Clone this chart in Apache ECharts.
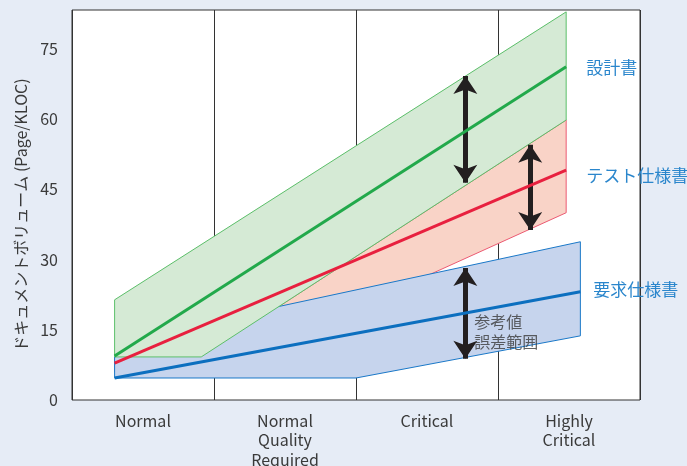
<!DOCTYPE html>
<html><head><meta charset="utf-8">
<script src="https://cdn.jsdelivr.net/npm/echarts@6/dist/echarts.min.js"></script>
<style>html,body{margin:0;padding:0;background:#e6ecf6;}#c{width:687px;height:466px;}</style>
</head><body><div id="c"></div>
<script>
// ---- data ----
const categories = ['Normal', 'Normal\nQuality\nRequired', 'Critical', 'Highly\nCritical'];
const yTicks = [0, 15, 30, 45, 60, 75];
const yName = 'ドキュメントボリューム (Page/KLOC)';
// x positions in category units (0 = left edge of "Normal", 4 = right edge of "Highly Critical")
const designUpper = [[0.3, 21.4], [3.48, 82.9]];
const designMid   = [[0.3, 9.4],  [3.48, 71.2]];
const designLower = [[0.3, 9.2],  [0.91, 9.2], [3.48, 59.8]];
const testUpper   = [[0.3, 9.2],  [0.91, 9.2], [3.48, 59.8]];
const testMid     = [[0.3, 7.9],  [3.48, 49.1]];
const testLower   = [[0.3, 6.0],  [1.61, 14.3], [3.48, 40.0]];
const reqUpper    = [[0.3, 9.2],  [1.445, 19.9], [3.58, 33.8]];
const reqMid      = [[0.3, 4.7],  [3.58, 23.1]];
const reqLower    = [[0.3, 4.7],  [2.0, 4.7], [3.58, 13.7]];
const seriesNames = ['設計書', 'テスト仕様書', '要求仕様書'];
const arrows = [
  [[2.77, 69.2], [2.77, 46.4]],
  [[3.227, 54.5], [3.227, 36.3]],
  [[2.77, 28.2], [2.77, 8.8]]
];
const noteText = ['参考値', '誤差範囲'];
const notePos = [2.833, 14.5];

// ---- chart ----
const FONT = '"Noto Sans CJK JP", "Noto Sans", sans-serif';
const bands = [
  {upper: testUpper, lower: testLower, fill: '#f9d3c7', stroke: '#ec5a72'},
  {upper: reqUpper, lower: reqLower, fill: '#c6d4ed', stroke: '#1a78c8'},
  {upper: designUpper, lower: designLower, fill: '#d5ead5', stroke: '#5cbf6a'}
];
function bandSeries(b) {
  return {
    type: 'custom', xAxisIndex: 1, yAxisIndex: 0, silent: true,
    data: [[b.upper[0][0], b.upper[0][1]]],
    renderItem: function (params, api) {
      const pts = b.upper.concat(b.lower.slice().reverse()).map(p => api.coord(p));
      return {type: 'polygon', shape: {points: pts},
        style: {fill: b.fill, stroke: b.stroke, lineWidth: 1}};
    }
  };
}
function midSeries(name, data, color, dist, off) {
  return {
    type: 'line', name: name, xAxisIndex: 1, yAxisIndex: 0, data: data,
    symbol: 'none', lineStyle: {color: color, width: 3}, silent: true,
    endLabel: {show: true, formatter: name, color: '#2a86cc', fontSize: 17,
      fontFamily: FONT, distance: dist, offset: off}
  };
}
const chart = echarts.init(document.getElementById('c'));
chart.setOption({
  backgroundColor: '#e6ecf6',
  animation: false,
  textStyle: {fontFamily: FONT},
  grid: {left: 72, right: 47, top: 10, bottom: 66, show: true, outerBoundsMode: 'none',
    containLabel: false,
    backgroundColor: '#ffffff', borderColor: '#333333', borderWidth: 1},
  xAxis: [
    {type: 'category', data: categories, boundaryGap: true,
      axisLine: {show: false}, axisTick: {show: false},
      splitLine: {show: true, lineStyle: {color: '#333333', width: 1}},
      axisLabel: {interval: 0, color: '#3a3a3a', fontSize: 16, lineHeight: 19.5,
        margin: 11, fontFamily: FONT}},
    {type: 'value', min: 0, max: 4, show: false}
  ],
  yAxis: {
    type: 'value', min: 0, max: 83.3, interval: 15,
    name: yName, nameLocation: 'middle', nameGap: 42, nameRotate: 90,
    nameTextStyle: {color: '#3a3a3a', fontSize: 16, fontFamily: FONT, padding: [0, 20, 0, 0]},
    axisLine: {show: false}, axisTick: {show: false}, splitLine: {show: false},
    axisLabel: {color: '#3a3a3a', fontSize: 16, margin: 14, showMaxLabel: false,
      fontFamily: FONT, formatter: v => (yTicks.indexOf(v) >= 0 ? String(v) : '')}
  },
  series: [
    bandSeries(bands[0]),
    bandSeries(bands[1]),
    bandSeries(bands[2]),
    midSeries(seriesNames[0], designMid, '#22a94b', 20, [0, 1]),
    midSeries(seriesNames[1], testMid, '#e8203f', 20, [0, 5]),
    midSeries(seriesNames[2], reqMid, '#0c6fbf', 13, [0, -2]),
    {type: 'lines', coordinateSystem: 'cartesian2d', xAxisIndex: 1, yAxisIndex: 0,
      silent: true, symbol: ['arrow', 'arrow'], symbolSize: 18,
      lineStyle: {color: '#231f20', width: 5, opacity: 1},
      data: arrows.map(a => ({coords: a}))},
    {type: 'scatter', xAxisIndex: 1, yAxisIndex: 0, symbolSize: 0, silent: true,
      data: [notePos],
      label: {show: true, position: 'right', distance: 0, formatter: noteText.join('\n'),
        color: '#3a3a3a', fontSize: 16, lineHeight: 20, fontFamily: FONT}}
  ]
});
</script></body></html>
